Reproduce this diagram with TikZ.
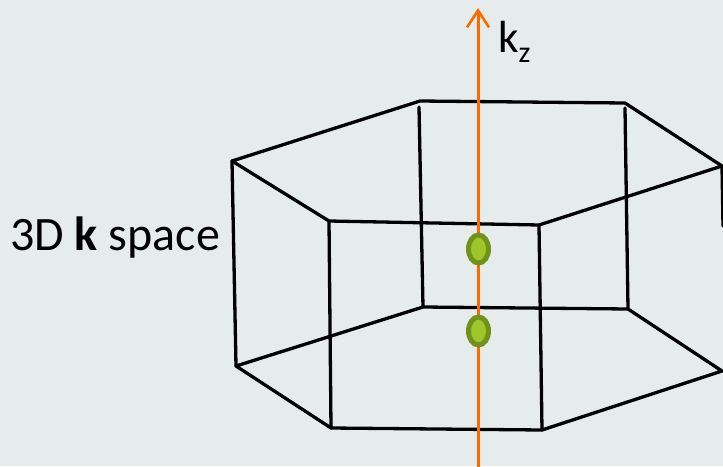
\documentclass[tikz,border=0pt]{standalone}
\usepackage{fontspec}
\setmainfont{Carlito}
\usetikzlibrary{arrows.meta,shapes.geometric}
\definecolor{bg}{RGB}{230,236,236}
\definecolor{axisor}{RGB}{255,106,0}
\definecolor{dotdark}{RGB}{112,146,26}
\definecolor{dotlight}{RGB}{158,198,42}
\tikzset{
  edge/.style={line width=3.3pt, black, line cap=round, line join=round},
  axisline/.style={line width=3pt, axisor, -{Straight Barb[length=17pt,width=22pt,line width=2.6pt]}},
  greendot/.style={ellipse, draw=dotdark, fill=dotlight, line width=5pt, minimum width=20pt, minimum height=28pt, inner sep=0pt}
}
\begin{document}
\begin{tikzpicture}[x=1pt,y=-1pt]
\fill[bg] (0,0) rectangle (723,466);
\useasboundingbox (0,0) rectangle (723,466);
\begin{scope}
\clip (0,0) rectangle (723,466);
% top hexagon
\coordinate (TL) at (232,161);
\coordinate (TFL) at (329,221);
\coordinate (TFR) at (539,225);
\coordinate (TR) at (722,166);
\coordinate (TBR) at (625,103);
\coordinate (TBL) at (420,101);
% bottom hexagon
\coordinate (BL) at (236,366);
\coordinate (BFL) at (331,428);
\coordinate (BFR) at (542,430);
\coordinate (BR) at (722,371);
\coordinate (BBR) at (628,309);
\coordinate (BBL) at (423,307);
% back vertical tops (small gap)
\coordinate (TBRv) at (625,108);
\coordinate (TBLv) at (419,107);
\coordinate (TRv) at (723,226);
\draw[edge] (TL) -- (TFL) -- (TFR) -- (TR) -- (TBR) -- (TBL) -- cycle;
\draw[edge] (BL) -- (BFL) -- (BFR) -- (BR) -- (BBR) -- (BBL) -- cycle;
\draw[edge] (TL) -- (BL);
\draw[edge] (TFL) -- (BFL);
\draw[edge] (TFR) -- (BFR);
\draw[edge] (TBRv) -- (BBR);
\draw[edge] (TBLv) -- (BBL);
\draw[edge] (TR) -- (TRv);
% axis
\coordinate (AB) at (478,470);
\coordinate (AT) at (478,8);
\draw[axisline] (AB) -- (AT);
\end{scope}
\node[greendot] (d1) at (478.5,249) {};
\node[greendot] (d2) at (478.5,331) {};
\node[anchor=base west, inner sep=0pt] (kz) at (498,52) {\fontsize{45}{52}\selectfont k\raisebox{-10pt}{\fontsize{30}{34}\selectfont z}};
\node[anchor=base west, inner sep=0pt] (lbl) at (10,250) {\fontsize{48}{56}\selectfont 3D \textbf{k} space};
\end{tikzpicture}
\end{document}
